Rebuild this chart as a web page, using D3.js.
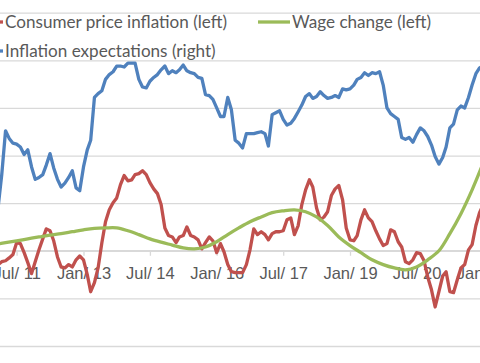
<!DOCTYPE html>
<html>
<head>
<meta charset="utf-8">
<script src="https://cdn.jsdelivr.net/npm/d3@7"></script>
<style>
  body { margin: 0; background: #fff; }
  svg { display: block; font-family: Lato, "Open Sans", sans-serif; }
</style>
</head>
<body>
<div id="chart"></div>
<script>
// monthly, Jan 2011 .. Jan 2022 (left axis, %)
const cpi = [
  -0.44, -0.29, -0.23, -0.21, -0.15, -0.08, 0.17, 0.15, -0.04, -0.25,
  -0.48, -0.23, 0.02, 0.25, 0.46, 0.42, 0.21, -0.13, -0.34, -0.36,
  -0.29, -0.34, -0.19, -0.11, -0.19, -0.50, -0.86, -0.67, -0.36, 0.17,
  0.61, 0.86, 1.01, 1.11, 1.39, 1.58, 1.47, 1.49, 1.60, 1.62,
  1.68, 1.60, 1.43, 1.30, 1.20, 0.97, 0.48, 0.32, 0.29, 0.17,
  0.29, 0.32, 0.50, 0.32, 0.29, 0.23, 0.04, 0.17, 0.29, 0.21,
  -0.04, 0.15, -0.02, -0.29, -0.44, -0.46, -0.46, -0.46, -0.29, 0.02,
  0.46, 0.34, 0.40, 0.34, 0.23, 0.36, 0.40, 0.40, 0.42, 0.65,
  0.69, 0.34, 0.53, 0.97, 1.28, 1.49, 1.34, 0.90, 0.65, 0.71,
  0.82, 1.16, 1.30, 1.37, 1.07, 0.48, 0.23, 0.21, 0.32, 0.65,
  0.86, 0.69, 0.61, 0.42, 0.25, 0.11, 0.15, 0.44, 0.40, 0.19,
  0.08, -0.23, -0.27, -0.19, -0.04, -0.06, -0.21, -0.55, -0.82, -1.18,
  -0.86, -0.53, -0.44, -0.86, -0.88, -0.61, -0.36, -0.29, 0.02, 0.13,
  0.53, 0.80, 0.97
]
// monthly, Feb 2011 .. Jan 2022 (right axis)
const expectations = [
  1.48, 1.80, 2.26, 2.18, 2.13, 2.12, 2.09, 2.01, 2.06, 1.88,
  1.75, 1.77, 1.80, 1.90, 2.02, 1.87, 1.75, 1.67, 1.71, 1.77,
  1.84, 1.66, 1.63, 1.88, 2.06, 2.16, 2.61, 2.65, 2.68, 2.80,
  2.85, 2.88, 2.94, 2.94, 2.93, 2.97, 2.97, 2.97, 2.80, 2.72,
  2.71, 2.78, 2.82, 2.85, 2.90, 2.94, 2.86, 2.89, 2.87, 2.90,
  2.95, 2.89, 2.87, 2.86, 2.82, 2.81, 2.64, 2.63, 2.59, 2.50,
  2.41, 2.41, 2.61, 2.48, 2.16, 2.13, 2.08, 2.23, 2.23, 2.23,
  2.24, 2.25, 2.23, 2.10, 2.43, 2.45, 2.47, 2.38, 2.32, 2.34,
  2.39, 2.46, 2.53, 2.62, 2.65, 2.60, 2.62, 2.67, 2.63, 2.60,
  2.61, 2.63, 2.61, 2.70, 2.69, 2.70, 2.74, 2.80, 2.82, 2.87,
  2.84, 2.87, 2.86, 2.88, 2.74, 2.50, 2.44, 2.41, 2.38, 2.19,
  2.17, 2.19, 2.14, 2.22, 2.29, 2.26, 2.20, 2.11, 1.99, 1.91,
  1.98, 2.09, 2.29, 2.33, 2.48, 2.52, 2.50, 2.61, 2.74, 2.86,
  2.92, 2.94
]
// quarterly, Jan 2011 .. Jan 2022 (left axis, %)
const wages = [
  0.13, 0.17, 0.21, 0.25, 0.29, 0.33, 0.36, 0.40, 0.44, 0.47,
  0.48, 0.48, 0.42, 0.34, 0.25, 0.18, 0.12, 0.06, 0.04, 0.08,
  0.19, 0.34, 0.48, 0.61, 0.71, 0.80, 0.84, 0.86, 0.82, 0.71,
  0.53, 0.29, 0.11, -0.04, -0.19, -0.29, -0.36, -0.40, -0.34, -0.19,
  0.00, 0.36, 0.78, 1.28, 1.85
]
const leftTicks = [-2, -1, 0, 1, 2, 3, 4, 5]
const rightDomain = [0, 3.5]
const dateTicks = [
  new Date(2011, 6, 1), new Date(2013, 0, 1), new Date(2014, 6, 1), new Date(2016, 0, 1),
  new Date(2017, 6, 1), new Date(2019, 0, 1), new Date(2020, 6, 1), new Date(2022, 0, 1)
]
const seriesNames = ['Consumer price inflation (left)', 'Wage change (left)', 'Inflation expectations (right)']
const colors = ['#c0504d', '#9bbb59', '#4f81bd']

const width = 480
const height = 363
const textColor = '#595959'
const gridColor = '#d9d9d9'

const months = d3.timeMonth.range(new Date(2011, 0, 1), new Date(2022, 1, 1))
const quarters = d3.timeMonth.every(3).range(new Date(2011, 0, 1), new Date(2022, 1, 1))

const x = d3.scaleTime()
  .domain([new Date(2013, 0, 1), new Date(2019, 0, 1)])
  .range([83.5, 350])
const yLeft = d3.scaleLinear().domain(d3.extent(leftTicks)).range([346, 12.7])
const yRight = d3.scaleLinear().domain(rightDomain).range([346, 12.7])

const svg = d3.select('#chart').append('svg')
  .attr('width', width)
  .attr('height', height)

// gridlines
const grid = svg.append('g')
  .call(d3.axisRight(yLeft).tickValues(leftTicks).tickSize(width).tickFormat(''))
grid.select('.domain').remove()
grid.selectAll('line').attr('stroke', gridColor).attr('stroke-width', 1.3)

// date axis, crossing at zero
const xAxis = svg.append('g')
  .attr('transform', 'translate(0,' + yLeft(0) + ')')
  .call(d3.axisBottom(x).tickValues(dateTicks).tickFormat(d3.timeFormat('%b/ %y'))
    .tickSize(5).tickSizeOuter(0).tickPadding(12))
xAxis.select('.domain').attr('stroke', gridColor).attr('stroke-width', 1.3).attr('d', 'M0,0H' + width)
xAxis.selectAll('line').attr('stroke', gridColor).attr('stroke-width', 1.3)
xAxis.selectAll('text')
  .attr('fill', textColor)
  .style('font-size', '16.5px')

// legend
const legendPos = [[-29, 22], [258, 22], [-29, 51]]
const legend = svg.append('g').selectAll('g').data(seriesNames).enter().append('g')
  .attr('transform', (d, i) => 'translate(' + legendPos[i][0] + ',' + legendPos[i][1] + ')')
legend.append('line')
  .attr('x1', 0).attr('x2', 32)
  .attr('stroke', (d, i) => colors[i])
  .attr('stroke-width', 3.3)
legend.append('text')
  .attr('x', 34).attr('y', 6.3)
  .attr('fill', textColor)
  .style('font-size', '17.1px')
  .text(d => d)

// series
const cpiData = cpi.map((v, i) => ({ date: months[i], value: v }))
const expData = expectations.map((v, i) => ({ date: months[i + 1], value: v }))
const wageData = wages.map((v, i) => ({ date: quarters[i], value: v }))

const lineLeft = d3.line().x(d => x(d.date)).y(d => yLeft(d.value))
const lineRight = d3.line().x(d => x(d.date)).y(d => yRight(d.value))

svg.append('path')
  .datum(cpiData)
  .attr('d', lineLeft)
  .attr('fill', 'none')
  .attr('stroke', colors[0])
  .attr('stroke-width', 3.3)
  .attr('stroke-linejoin', 'round')

svg.append('path')
  .datum(wageData)
  .attr('d', lineLeft.curve(d3.curveCatmullRom))
  .attr('fill', 'none')
  .attr('stroke', colors[1])
  .attr('stroke-width', 3.3)

svg.append('path')
  .datum(expData)
  .attr('d', lineRight)
  .attr('fill', 'none')
  .attr('stroke', colors[2])
  .attr('stroke-width', 3.3)
  .attr('stroke-linejoin', 'round')
</script>
</body>
</html>
